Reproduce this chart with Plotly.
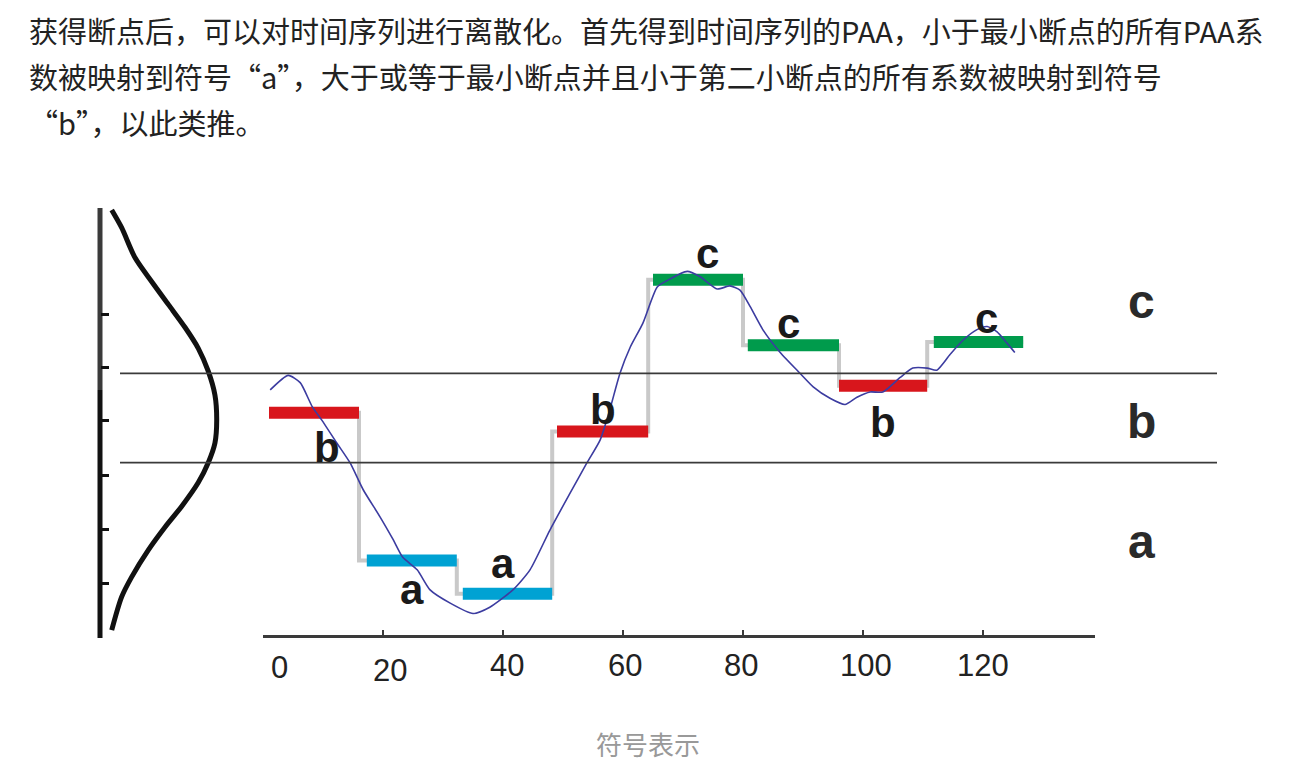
import plotly.graph_objects as go

# ---------------- data ----------------
paa_start = [1.0, 17.3, 33.3, 49.0, 65.0, 80.8, 96.0, 111.8]
paa_end = [16.0, 32.3, 48.2, 64.2, 80.0, 96.0, 110.7, 126.7]
paa_value = [0.05, -1.37, -1.69, -0.13, 1.33, 0.70, 0.31, 0.73]
paa_symbol = ["b", "a", "a", "b", "c", "c", "b", "c"]
breakpoints = [-0.43, 0.43]
region_symbols = ["c", "b", "a"]

series_t = [1.2, 4.2, 6.2, 8.2, 9.8, 12.3, 14.5, 16.7, 19.5, 21.7, 23.3, 25.7, 27.8,
            31.2, 35.0, 37.8, 41.7, 44.5, 47.8, 51.2, 54.0, 56.2, 57.8, 59.5, 61.2,
            63.3, 65.7, 67.3, 70.7, 72.8, 75.7, 77.8, 79.5, 81.2, 83.3, 86.2, 89.5,
            91.7, 94.5, 97.0, 99.0, 101.2, 103.3, 106.2, 108.3, 110.7, 112.3, 114.5,
            116.7, 119.0, 120.7, 122.3, 124.0, 125.3]
series_v = [0.27, 0.41, 0.34, 0.11, -0.02, -0.24, -0.43, -0.69, -0.95, -1.17, -1.34,
            -1.46, -1.65, -1.78, -1.88, -1.82, -1.65, -1.46, -1.08, -0.72, -0.43, -0.21,
            0.08, 0.43, 0.68, 0.91, 1.26, 1.32, 1.41, 1.36, 1.24, 1.27, 1.23, 1.07, 0.85,
            0.63, 0.43, 0.30, 0.19, 0.13, 0.20, 0.25, 0.25, 0.39, 0.48, 0.48, 0.46, 0.61,
            0.75, 0.85, 0.88, 0.83, 0.72, 0.63]

bell_value = [2.00, 1.83, 1.54, 1.31, 1.09, 0.87, 0.67, 0.45, 0.22, -0.02, -0.24,
              -0.43, -0.62, -0.85, -1.05, -1.27, -1.53, -1.72, -2.04]
bell_density = [0.040, 0.074, 0.120, 0.177, 0.234, 0.291, 0.336, 0.370, 0.393, 0.399,
                0.393, 0.370, 0.336, 0.279, 0.222, 0.165, 0.108, 0.074, 0.040]

value_scale_top = 2.02
value_scale_split = 0.27
value_scale_bottom = -2.115
value_ticks = [1.0, 0.49, -0.02, -0.55, -1.07, -1.59]

time_ticks = [20, 40, 60, 80, 100, 120]
time_axis_end = 138.67
time_tick_labels = ["0", "20", "40", "60", "80", "100", "120"]
time_tick_label_values = [0, 20, 40, 60, 80, 100, 120]

text_lines = [
    "获得断点后，可以对时间序列进行离散化。首先得到时间序列的PAA，小于最小断点的所有PAA系",
    "数被映射到符号“a”，大于或等于最小断点并且小于第二小断点的所有系数被映射到符号",
    "“b”，以此类推。",
]
caption = "符号表示"

# ---------------- layout constants ----------------
# all pixel numbers below are page pixels; the page body has an 8px margin
PAGE_W, PAGE_H, OFF = 1301, 767, 8
W, H = PAGE_W - OFF, PAGE_H - OFF
Y0_PX, Y_SCALE = 418.0, 104.0          # value 0 at page row 418, 104 px per unit
MAIN_BOTTOM_PX, SIDE_BOTTOM_PX = 635.0, 640.0
X_LEFT_PX, X_RIGHT_PX = 263.0, 1095.0
D0_PX, D_SCALE = 100.0, 292.5


def px(xp):
    return (xp - OFF) / W


def py(yp):
    return 1 - (yp - OFF) / H


colors = {"a": "#00a2d3", "b": "#d8161c", "c": "#009b4c"}
label_font = "Liberation Sans, Arial, Helvetica, sans-serif"
cjk_font = "Noto Sans CJK SC, Noto Sans, sans-serif"

fig = go.Figure()

# gray PAA step line (under bars)
gx, gy = [], []
for s, e, v in zip(paa_start, paa_end, paa_value):
    gx += [s, e]
    gy += [v, v]
fig.add_trace(go.Scatter(x=gx, y=gy, mode="lines", line=dict(color="#c9c9c9", width=4, shape="vh"),
                         hoverinfo="skip", showlegend=False))

# colored PAA bars
for sym in ["a", "b", "c"]:
    bx, by = [], []
    for s, e, v, sy in zip(paa_start, paa_end, paa_value, paa_symbol):
        if sy == sym:
            bx += [s, e, None]
            by += [v, v, None]
    fig.add_trace(go.Scatter(x=bx, y=by, mode="lines", line=dict(color=colors[sym], width=12),
                             hoverinfo="skip", showlegend=False))

# time series
fig.add_trace(go.Scatter(x=series_t, y=series_v, mode="lines",
                         line=dict(color="#3c3ca0", width=1.6, shape="spline", smoothing=0.6),
                         showlegend=False))

# bell curve and value scale (side subplot)
fig.add_trace(go.Scatter(x=bell_density, y=bell_value, mode="lines", xaxis="x2", yaxis="y2",
                         line=dict(color="#111111", width=5, shape="spline", smoothing=0.8),
                         showlegend=False))
fig.add_trace(go.Scatter(x=[0, 0], y=[value_scale_top, value_scale_split], mode="lines",
                         xaxis="x2", yaxis="y2", line=dict(color="#3a3a3a", width=5),
                         showlegend=False))
fig.add_trace(go.Scatter(x=[0, 0], y=[value_scale_split, value_scale_bottom], mode="lines",
                         xaxis="x2", yaxis="y2", line=dict(color="#111111", width=5),
                         showlegend=False))

# breakpoint lines
shapes = []
for bp in breakpoints:
    shapes.append(dict(type="line", xref="paper", yref="y", x0=px(120), x1=px(1217), y0=bp, y1=bp,
                       line=dict(color="#3a3a3a", width=1.8), layer="above"))

annotations = []
# bar symbol labels (positions in data units)
bar_label_pos = [(10.6, -0.28), (24.8, -1.65), (40.0, -1.40), (56.7, 0.08),
                 (74.0, 1.58), (87.5, 0.91), (103.3, -0.04), (120.5, 0.96)]
for sym, (lx, ly) in zip(paa_symbol, bar_label_pos):
    annotations.append(dict(x=lx, y=ly, xref="x", yref="y", text=sym, showarrow=False,
                            font=dict(family=label_font, size=42, color="#1a1a1a", weight="bold"),
                            xanchor="center", yanchor="middle"))
# region labels on the right
region_pos = [1.12, -0.03, -1.19]
for sym, ry in zip(region_symbols, region_pos):
    annotations.append(dict(x=px(1141), y=ry, xref="paper", yref="y", text=sym, showarrow=False,
                            font=dict(family=label_font, size=48, color="#2a2a2a", weight="bold"),
                            xanchor="center", yanchor="middle"))
# time tick labels
tick_label_dx = [2.8, 1.2, 0.7, 0.3, -0.3, 0.5, 0.0]
tick_label_py = [667, 670, 665, 665, 665, 665, 665]
for lab, val, dx, ty in zip(time_tick_labels, time_tick_label_values, tick_label_dx, tick_label_py):
    annotations.append(dict(x=val + dx, y=py(ty), xref="x", yref="paper", text=lab,
                            showarrow=False, xanchor="center", yanchor="middle",
                            font=dict(family=label_font, size=31, color="#222222")))
# paragraph text
line_py = [30, 76, 122]
for t, ty in zip(text_lines, line_py):
    annotations.append(dict(x=px(27), y=py(ty), xref="paper", yref="paper", text=t,
                            showarrow=False, xanchor="left", yanchor="middle",
                            font=dict(family=cjk_font, size=29, color="#222222")))
annotations.append(dict(x=px(648), y=py(743), xref="paper", yref="paper", text=caption,
                        showarrow=False, xanchor="center", yanchor="middle",
                        font=dict(family=cjk_font, size=26, color="#999999")))

y_top = (Y0_PX - OFF) / Y_SCALE
fig.update_layout(
    width=W, height=H,
    margin=dict(l=0, r=0, t=0, b=0, pad=0),
    paper_bgcolor="white", plot_bgcolor="rgba(0,0,0,0)",
    showlegend=False,
    shapes=shapes, annotations=annotations,
    xaxis=dict(domain=[px(X_LEFT_PX), px(X_RIGHT_PX)], range=[0, (X_RIGHT_PX - X_LEFT_PX) / 6.0],
               showline=True, linecolor="#3a3a3a", linewidth=3, mirror=False,
               ticks="inside", ticklen=5, tickwidth=2, tickcolor="#3a3a3a",
               tickvals=time_ticks + [time_axis_end], showticklabels=False,
               showgrid=False, zeroline=False, anchor="y", fixedrange=True),
    yaxis=dict(domain=[py(MAIN_BOTTOM_PX), 1],
               range=[(Y0_PX - MAIN_BOTTOM_PX) / Y_SCALE, y_top],
               visible=False, showgrid=False, zeroline=False, fixedrange=True),
    xaxis2=dict(domain=[0, 1], range=[(OFF - D0_PX) / D_SCALE, (PAGE_W - D0_PX) / D_SCALE],
                visible=False, showgrid=False, zeroline=False, anchor="y2", fixedrange=True),
    yaxis2=dict(domain=[py(SIDE_BOTTOM_PX), 1],
                range=[(Y0_PX - SIDE_BOTTOM_PX) / Y_SCALE, y_top],
                anchor="free", position=px(D0_PX), side="left",
                ticks="inside", ticklen=8, tickwidth=3, tickcolor="#111111",
                tickvals=value_ticks, showticklabels=False, showline=False,
                showgrid=False, zeroline=False, fixedrange=True),
)

fig.write_html("out.html")
